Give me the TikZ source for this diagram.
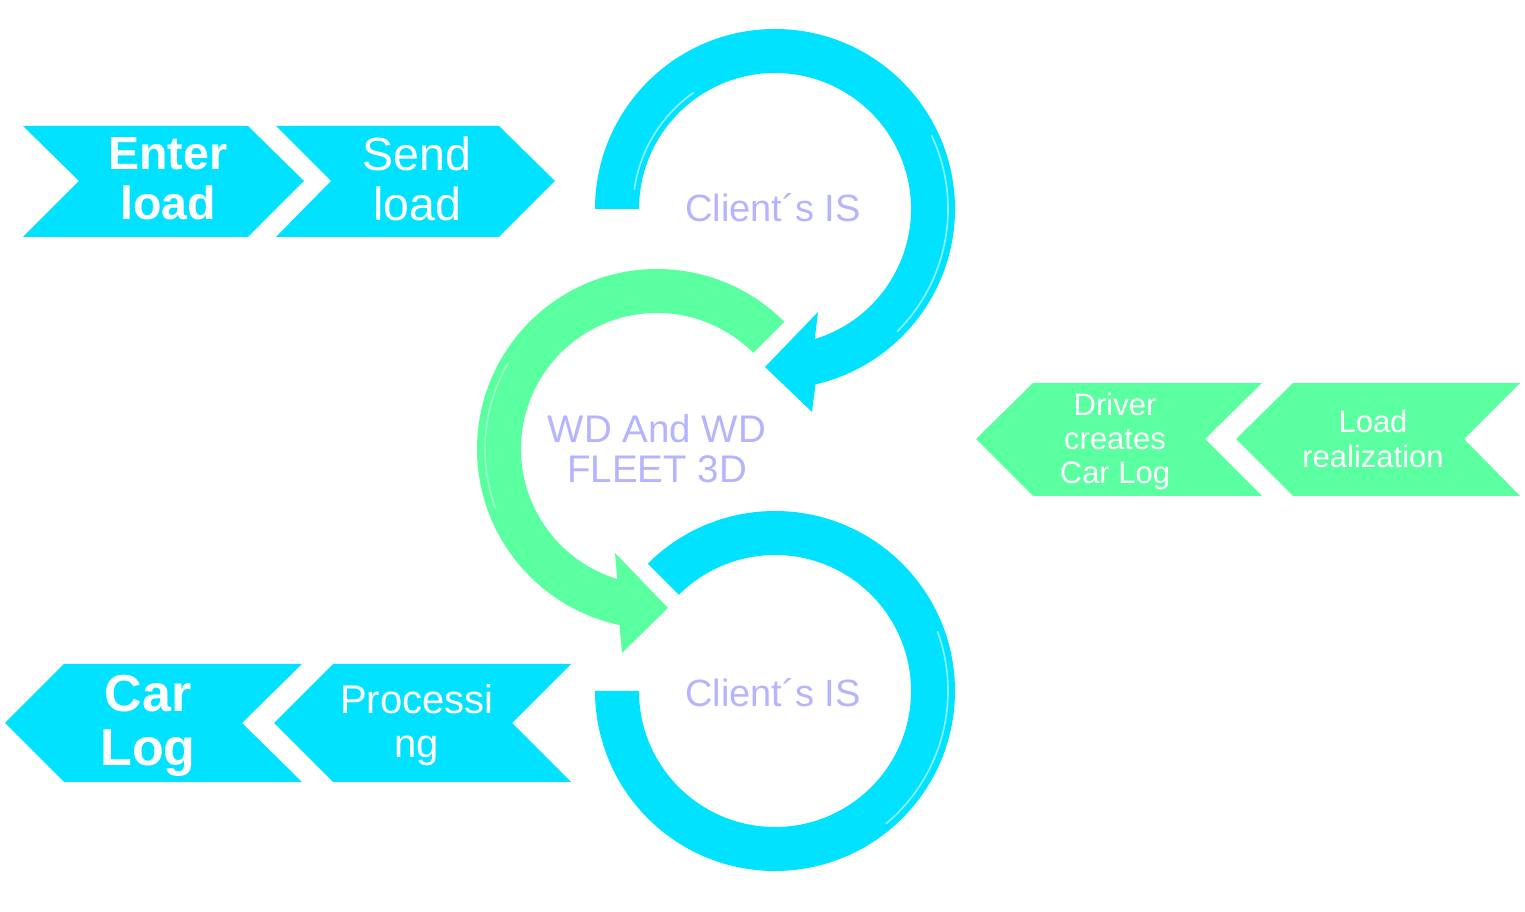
\documentclass[tikz,border=0pt]{standalone}
\usepackage{fontspec}
\setmainfont{Liberation Sans}
\usetikzlibrary{calc}
\definecolor{ringcyan}{HTML}{00E2FF}
\definecolor{ringgreen}{HTML}{5AFFA0}
\definecolor{labelpurple}{HTML}{B4B4FF}
\tikzset{
  cyanshape/.style={fill=ringcyan},
  greenshape/.style={fill=ringgreen},
  shine/.style={draw=white, draw opacity=0.55, line width=1.6pt, line cap=round},
  whitelabel/.style={text=white, align=center, inner sep=0pt},
  ringlabel/.style={text=labelpurple, align=center, inner sep=0pt},
}
\begin{document}
\begin{tikzpicture}[x=1pt,y=1pt]
\useasboundingbox (0,0) rectangle (1525,912);

% ring centres
\coordinate (c1) at (775,703);
\coordinate (c2) at (657,463);
\coordinate (c3) at (775,221);

% top cyan ring with arrow head
\fill[cyanshape] (c1) ++(180:180pt) arc[start angle=180, end angle=-77, radius=180pt]
  -- (812,500) -- (765,545) -- (818,600)
  -- ($(c1)+(-73:136pt)$) arc[start angle=-73, end angle=180, radius=136pt] -- cycle;
\draw[shine] (c1) ++(25:173pt) arc[start angle=25, end angle=-45, radius=173pt];
\draw[shine] (c1) ++(172:142pt) arc[start angle=172, end angle=125, radius=142pt];

% green arrow
\fill[greenshape] (c2) ++(45:180pt) arc[start angle=45, end angle=258, radius=180pt]
  -- (622,259) -- (668,304) -- (615,359)
  -- ($(c2)+(253:136pt)$) arc[start angle=253, end angle=45, radius=136pt] -- cycle;
\draw[shine, draw opacity=0.4] (c2) ++(200:172pt) arc[start angle=200, end angle=150, radius=172pt];

% bottom cyan ring
\fill[cyanshape] (c3) ++(135:180pt) arc[start angle=135, end angle=-180, radius=180pt]
  -- ($(c3)+(180:136pt)$) arc[start angle=-180, end angle=135, radius=136pt] -- cycle;
\draw[shine] (c3) ++(20:173pt) arc[start angle=20, end angle=-50, radius=173pt];

% ring labels
\node[ringlabel, font=\fontsize{38}{40}\selectfont] (is1) at (773,704) {Client´s IS};
\node[ringlabel, font=\fontsize{38.5}{40}\selectfont] (wd) at (657,463) {WD And WD\\FLEET 3D};
\node[ringlabel, font=\fontsize{38}{40}\selectfont] (is2) at (773,219) {Client´s IS};

% top-left chevrons
\fill[cyanshape] (23,786) -- (248,786) -- (304,731) -- (248,675) -- (23,675) -- (79,731) -- cycle;
\fill[cyanshape] (276,786) -- (499,786) -- (555,731) -- (499,675) -- (276,675) -- (331,731) -- cycle;
\node[whitelabel, font=\bfseries\fontsize{46.5}{50}\selectfont] (enter) at (168,733) {Enter\\load};
\node[whitelabel, font=\fontsize{46.5}{50}\selectfont] (send) at (417,733) {Send\\load};

% bottom-left chevrons
\fill[cyanshape] (5,189) -- (64,248) -- (302,248) -- (242,189) -- (302,130) -- (64,130) -- cycle;
\fill[cyanshape] (274,189) -- (333,248) -- (571,248) -- (512,189) -- (571,130) -- (333,130) -- cycle;
\node[whitelabel, font=\bfseries\fontsize{52}{54}\selectfont] (carlog) at (148,186) {Car\\Log};
\node[whitelabel, font=\fontsize{40}{44}\selectfont] (proc) at (417,187) {Processi\\ng};

% right green chevrons
\fill[greenshape] (976,473) -- (1033,529) -- (1262,529) -- (1205,473) -- (1262,416) -- (1033,416) -- cycle;
\fill[greenshape] (1236,473) -- (1293,529) -- (1520,529) -- (1464,473) -- (1520,416) -- (1293,416) -- cycle;
\node[whitelabel, font=\fontsize{31}{34}\selectfont] (driver) at (1115,471) {Driver\\creates\\Car Log};
\node[whitelabel, font=\fontsize{31}{35}\selectfont] (loadr) at (1373,473) {Load\\realization};
\end{tikzpicture}
\end{document}
